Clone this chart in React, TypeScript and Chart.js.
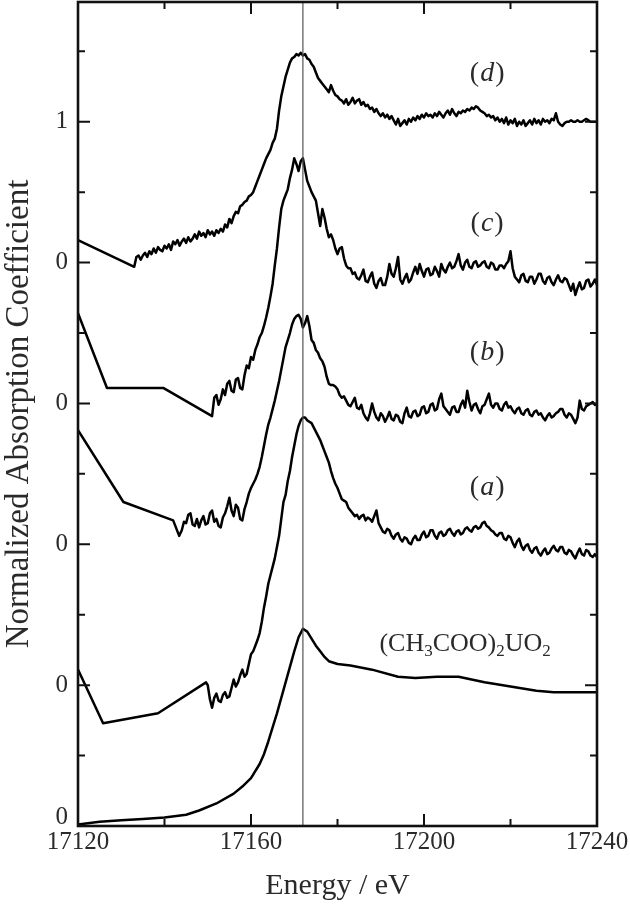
import React, { useEffect, useRef } from 'react';
import { Chart, registerables } from 'chart.js';

Chart.register(...registerables);

// ---------- data ----------
// shared energy grid (eV) for the measured (noisy) parts of spectra a-d
const energyGrid = [
  17133, 17133.5, 17134, 17134.5, 17135, 17135.5, 17136, 17136.5, 17137, 17137.5,
  17138, 17138.5, 17139, 17139.5, 17140, 17140.5, 17141, 17141.5, 17142, 17142.5,
  17143, 17143.5, 17144, 17144.5, 17145, 17145.5, 17146, 17146.5, 17147, 17147.5,
  17148, 17148.5, 17149, 17149.5, 17150, 17150.5, 17151, 17151.5, 17152, 17152.5,
  17153, 17153.5, 17154, 17154.5, 17155, 17155.5, 17156, 17156.5, 17157, 17157.5,
  17158, 17158.5, 17159, 17159.5, 17160, 17160.5, 17161, 17161.5, 17162, 17162.5,
  17163, 17163.5, 17164, 17164.5, 17165, 17165.5, 17166, 17166.5, 17167, 17167.5,
  17168, 17168.5, 17169, 17169.5, 17170, 17170.5, 17171, 17171.5, 17172, 17172.5,
  17173, 17173.5, 17174, 17174.5, 17175, 17175.5, 17176, 17176.5, 17177, 17177.5,
  17178, 17178.5, 17179, 17179.5, 17180, 17180.5, 17181, 17181.5, 17182, 17182.5,
  17183, 17183.5, 17184, 17184.5, 17185, 17185.5, 17186, 17186.5, 17187, 17187.5,
  17188, 17188.5, 17189, 17189.5, 17190, 17190.5, 17191, 17191.5, 17192, 17192.5,
  17193, 17193.5, 17194, 17194.5, 17195, 17195.5, 17196, 17196.5, 17197, 17197.5,
  17198, 17198.5, 17199, 17199.5, 17200, 17200.5, 17201, 17201.5, 17202, 17202.5,
  17203, 17203.5, 17204, 17204.5, 17205, 17205.5, 17206, 17206.5, 17207, 17207.5,
  17208, 17208.5, 17209, 17209.5, 17210, 17210.5, 17211, 17211.5, 17212, 17212.5,
  17213, 17213.5, 17214, 17214.5, 17215, 17215.5, 17216, 17216.5, 17217, 17217.5,
  17218, 17218.5, 17219, 17219.5, 17220, 17220.5, 17221, 17221.5, 17222, 17222.5,
  17223, 17223.5, 17224, 17224.5, 17225, 17225.5, 17226, 17226.5, 17227, 17227.5,
  17228, 17228.5, 17229, 17229.5, 17230, 17230.5, 17231, 17231.5, 17232, 17232.5,
  17233, 17233.5, 17234, 17234.5, 17235, 17235.5, 17236, 17236.5, 17237, 17237.5,
  17238, 17238.5, 17239, 17239.5, 17240,
];

// vertical offsets of each spectrum (their "0" levels)
const offsetRef = 0;
const offsetA = 1;
const offsetB = 2;
const offsetC = 3;
const offsetD = 4;

// (d) — grid values from 17133 eV
const dPreE = [17120];
const dPreV = [0.16];
const dGridV = [
  -0.03, 0.04, 0.05, 0.02, 0.05, 0.07, 0.04, 0.08, 0.06, 0.10,
  0.07, 0.11, 0.09, 0.08, 0.12, 0.10, 0.13, 0.09, 0.15, 0.13,
  0.16, 0.12, 0.15, 0.17, 0.14, 0.18, 0.15, 0.17, 0.20, 0.17,
  0.22, 0.19, 0.21, 0.18, 0.23, 0.20, 0.22, 0.19, 0.23, 0.21,
  0.24, 0.22, 0.27, 0.25, 0.31, 0.28, 0.33, 0.36, 0.35, 0.40,
  0.41, 0.43, 0.44, 0.47, 0.48, 0.50, 0.54, 0.58, 0.62, 0.66,
  0.70, 0.74, 0.77, 0.80, 0.85, 0.88, 0.95, 1.08, 1.18, 1.25,
  1.32, 1.37, 1.42, 1.45, 1.46, 1.48, 1.47, 1.49, 1.47, 1.48,
  1.45, 1.44, 1.41, 1.39, 1.35, 1.31, 1.29, 1.27, 1.25, 1.23,
  1.21, 1.26, 1.22, 1.19, 1.18, 1.16, 1.15, 1.13, 1.16, 1.12,
  1.14, 1.17, 1.13, 1.15, 1.16, 1.12, 1.14, 1.11, 1.12, 1.09,
  1.10, 1.07, 1.09, 1.06, 1.04, 1.06, 1.03, 1.05, 1.02, 1.04,
  1.01, 0.98, 1.02, 0.97, 0.99, 1.01, 0.98, 1.02, 1.00, 1.03,
  1.01, 1.04, 1.02, 1.05, 1.03, 1.06, 1.04, 1.05, 1.03, 1.06,
  1.04, 1.07, 1.05, 1.03, 1.06, 1.08, 1.05, 1.09, 1.06, 1.04,
  1.07, 1.06, 1.08, 1.07, 1.09, 1.08, 1.10, 1.09, 1.11, 1.10,
  1.08, 1.07, 1.06, 1.04, 1.05, 1.03, 1.04, 1.01, 1.03, 1.00,
  1.02, 0.99, 1.03, 0.98, 1.01, 0.99, 1.02, 0.97, 1.00, 0.98,
  1.01, 0.97, 0.99, 1.01, 0.98, 1.02, 0.99, 1.01, 0.98, 1.02,
  1.00, 1.01, 0.99, 1.02, 1.01, 1.06, 1.00, 0.98, 0.97, 0.99,
  1.00, 1.00, 1.01, 1.00, 1.00, 1.01, 1.00, 1.00, 1.01, 1.02,
  1.01, 1.00, 1.00, 1.00, 1.00,
];

// (c) — grid values from 17151 eV
const cPreE = [17120, 17126.7, 17135.5, 17139.7];
const cPreV = [0.64, 0.11, 0.11, 0.11];
const cGridV = [
  -0.09, 0.04, 0.06, -0.01,
  0.03, 0.10, 0.06, 0.14, 0.16, 0.09, 0.08, 0.17, 0.18, 0.11,
  0.10, 0.20, 0.27, 0.25, 0.33, 0.31, 0.38, 0.42, 0.47, 0.50,
  0.55, 0.61, 0.68, 0.76, 0.85, 0.98, 1.10, 1.25, 1.38, 1.44,
  1.48, 1.52, 1.60, 1.66, 1.74, 1.70, 1.65, 1.72, 1.74, 1.66,
  1.58, 1.54, 1.50, 1.47, 1.44, 1.35, 1.26, 1.38, 1.32, 1.24,
  1.18, 1.20, 1.16, 1.10, 1.06, 1.10, 1.11, 1.03, 0.98, 0.96,
  0.96, 0.92, 0.93, 0.89, 0.88, 0.91, 0.95, 0.87, 0.86, 0.90,
  0.93, 0.85, 0.82, 0.87, 0.89, 0.84, 0.84, 0.90, 0.99, 0.92,
  0.90, 0.96, 1.04, 0.88, 0.85, 0.89, 0.92, 0.86, 0.88, 0.93,
  0.97, 0.92, 0.99, 0.94, 0.90, 0.95, 0.96, 0.91, 0.92, 0.97,
  0.94, 0.90, 0.99, 0.95, 0.93, 0.97, 1.00, 0.96, 0.97, 1.01,
  1.06, 0.98, 0.95, 1.00, 1.02, 0.97, 0.96, 1.00, 1.01, 0.97,
  0.98, 1.00, 1.01, 0.97, 0.96, 1.00, 0.99, 0.95, 0.95, 0.98,
  0.98, 0.96, 0.99, 1.01, 1.08, 0.96, 0.90, 0.88, 0.86, 0.91,
  0.92, 0.87, 0.86, 0.90, 0.90, 0.85, 0.88, 0.92, 0.92, 0.87,
  0.85, 0.89, 0.90, 0.86, 0.84, 0.88, 0.91, 0.87, 0.86, 0.89,
  0.88, 0.84, 0.80, 0.85, 0.77, 0.82, 0.86, 0.81, 0.82, 0.87,
  0.88, 0.83, 0.85, 0.88, 0.84,
];

// (b) — grid values from 17144 eV
const bPreE = [17120, 17130.5, 17142, 17143.4];
const bPreV = [0.81, 0.30, 0.17, 0.06];
const bGridV = [
  0.10, 0.16, 0.15, 0.21, 0.22, 0.14, 0.13, 0.18,
  0.12, 0.17, 0.20, 0.14, 0.15, 0.22, 0.24, 0.16, 0.18, 0.13,
  0.12, 0.19, 0.22, 0.27, 0.33, 0.24, 0.20, 0.28, 0.26, 0.18,
  0.17, 0.25, 0.30, 0.36, 0.40, 0.43, 0.46, 0.50, 0.55, 0.62,
  0.70, 0.78, 0.85, 0.90, 0.96, 1.02, 1.09, 1.16, 1.24, 1.32,
  1.40, 1.45, 1.50, 1.56, 1.60, 1.62, 1.63, 1.60, 1.54, 1.57,
  1.62, 1.55, 1.45, 1.43, 1.38, 1.36, 1.32, 1.30, 1.26, 1.19,
  1.14, 1.13, 1.13, 1.12, 1.10, 1.06, 1.04, 1.05, 1.02, 0.99,
  0.98, 1.01, 1.04, 0.97, 0.96, 0.99, 0.93, 0.90, 0.88, 0.93,
  1.00, 0.94, 0.90, 0.88, 0.93, 0.91, 0.87, 0.90, 0.94, 0.89,
  0.88, 0.92, 0.91, 0.87, 0.86, 0.93, 0.97, 0.91, 0.90, 0.94,
  0.95, 0.91, 0.92, 0.97, 0.98, 0.93, 0.94, 0.99, 1.00, 0.95,
  0.96, 1.03, 1.07, 0.98, 0.96, 0.94, 0.92, 0.97, 0.98, 0.94,
  0.94, 0.99, 1.02, 0.97, 1.09, 1.01, 0.95, 0.99, 1.00, 0.96,
  0.93, 0.98, 0.99, 1.03, 1.07, 0.99, 0.97, 1.00, 1.00, 0.96,
  0.95, 0.99, 1.01, 0.97, 0.98, 0.95, 0.93, 0.96, 0.97, 0.93,
  0.92, 0.95, 0.96, 0.92, 0.91, 0.94, 0.95, 0.92, 0.93, 0.90,
  0.88, 0.91, 0.93, 0.90, 0.91, 0.93, 0.94, 0.96, 0.96, 0.92,
  0.90, 0.93, 0.92, 0.89, 0.86, 0.90, 1.02, 0.96, 0.95, 0.98,
  0.99, 1.00, 1.01, 0.99, 1.00,
];

// (a) — grid values from 17150 eV
const aPreE = [17120, 17125.8, 17138.5, 17149.6];
const aPreV = [0.11, -0.27, -0.20, 0.02];
const aGridV = [
  0.00, -0.10, -0.16, -0.09, -0.06, -0.11,
  -0.12, -0.07, -0.05, -0.09, -0.08, -0.02, 0.04, -0.01, 0.02, 0.07,
  0.11, 0.06, 0.08, 0.15, 0.22, 0.24, 0.28, 0.32, 0.37, 0.45,
  0.55, 0.63, 0.72, 0.78, 0.84, 0.90, 0.98, 1.06, 1.18, 1.30,
  1.35, 1.45, 1.52, 1.62, 1.70, 1.78, 1.84, 1.88, 1.90, 1.90,
  1.88, 1.87, 1.86, 1.83, 1.80, 1.77, 1.74, 1.70, 1.66, 1.62,
  1.58, 1.52, 1.47, 1.43, 1.40, 1.36, 1.32, 1.31, 1.30, 1.26,
  1.24, 1.22, 1.20, 1.21, 1.18, 1.20, 1.21, 1.17, 1.19, 1.18,
  1.16, 1.20, 1.24, 1.15, 1.12, 1.09, 1.08, 1.11, 1.10, 1.06,
  1.04, 1.07, 1.08, 1.04, 1.02, 1.05, 1.04, 1.01, 1.00, 1.04,
  1.06, 1.03, 1.03, 1.07, 1.09, 1.05, 1.06, 1.10, 1.10, 1.06,
  1.04, 1.08, 1.09, 1.06, 1.07, 1.10, 1.11, 1.08, 1.06, 1.09,
  1.10, 1.07, 1.08, 1.11, 1.12, 1.10, 1.09, 1.12, 1.13, 1.11,
  1.12, 1.15, 1.16, 1.13, 1.12, 1.10, 1.09, 1.07, 1.06, 1.08,
  1.08, 1.04, 1.03, 1.06, 1.05, 1.01, 0.98, 1.02, 1.04, 0.99,
  0.96, 0.99, 1.00, 0.96, 0.94, 0.97, 0.98, 0.94, 0.92, 0.95,
  0.97, 0.93, 0.94, 0.97, 0.99, 0.96, 0.95, 0.98, 0.98, 0.94,
  0.93, 0.96, 0.95, 0.92, 0.90, 0.94, 0.97, 0.93, 0.92, 0.96,
  0.95, 0.92, 0.91, 0.93, 0.91,
];

// reference (CH3COO)2UO2
const refE = [
  17120, 17125, 17130, 17135, 17140, 17145, 17148, 17152, 17156, 17158,
  17160, 17162, 17163, 17164, 17165, 17166, 17167, 17168, 17169, 17170,
  17171, 17172, 17173, 17174, 17175, 17176, 17177, 17178, 17180, 17183,
  17188, 17194, 17198, 17203, 17208, 17214, 17220, 17226, 17230, 17240,
];
const refV = [
  0.01, 0.03, 0.04, 0.05, 0.06, 0.08, 0.11, 0.16, 0.23, 0.28,
  0.34, 0.44, 0.51, 0.60, 0.70, 0.80, 0.91, 1.02, 1.13, 1.24,
  1.34, 1.40, 1.38, 1.33, 1.28, 1.24, 1.20, 1.17, 1.15, 1.14,
  1.11, 1.06, 1.05, 1.06, 1.06, 1.02, 0.99, 0.96, 0.95, 0.95,
];

const edgeEnergy = 17172;

// axis ticks
const xMajorTicks = [17120, 17160, 17200, 17240];
const xMinorTicks = [17140, 17180, 17220];
const yMajorTicks = [0, 1, 2, 3, 4, 5];
const yMinorTicks = [0.5, 1.5, 2.5, 3.5, 4.5, 5.5];
// the bottom "0" is drawn a little raised (see plugin), so it is blank here
const yTickLabels = ['', '0', '0', '0', '0', '1'];
const yBottomLabel = '0';

const curveLetters = ['d', 'c', 'b', 'a'];

// ---------- helpers ----------
const SERIF = '"Liberation Serif", "Times New Roman", Times, serif';
const TEXT = '#2a2a2a';

function buildPoints(preE: number[], preV: number[], gridV: number[], offset: number) {
  const pts: { x: number; y: number }[] = preE.map((e, i) => ({ x: e, y: preV[i] + offset }));
  const gridE = energyGrid.slice(energyGrid.length - gridV.length);
  gridV.forEach((v, i) => pts.push({ x: gridE[i], y: v + offset }));
  return pts;
}

const labelPos = {
  letters: [
    { e: 17214.6, v: 5.34 },
    { e: 17214.6, v: 4.28 },
    { e: 17214.6, v: 3.36 },
    { e: 17214.6, v: 2.40 },
  ],
  ref: { e: 17209.5, v: 1.24 },
};

const framePlugin = {
  id: 'frame',
  afterDraw(chart: any) {
    const { ctx, chartArea: ca, scales } = chart;
    const xs = scales.x;
    const ys = scales.y;
    ctx.save();
    ctx.strokeStyle = '#111';
    ctx.lineWidth = 2;
    ctx.beginPath();
    const tick = (vals: number[], len: number) => {
      vals.forEach((v) => {
        const px = xs.getPixelForValue(v);
        ctx.moveTo(px, ca.bottom);
        ctx.lineTo(px, ca.bottom - len);
        ctx.moveTo(px, ca.top);
        ctx.lineTo(px, ca.top + len);
      });
    };
    const ytick = (vals: number[], len: number) => {
      vals.forEach((v) => {
        const py = ys.getPixelForValue(v);
        ctx.moveTo(ca.left, py);
        ctx.lineTo(ca.left + len, py);
        ctx.moveTo(ca.right, py);
        ctx.lineTo(ca.right - len, py);
      });
    };
    tick(xMajorTicks, 12);
    tick(xMinorTicks, 7);
    ytick(yMajorTicks, 12);
    ytick(yMinorTicks, 7);
    ctx.stroke();
    ctx.lineWidth = 2.6;
    ctx.strokeRect(ca.left, ca.top, ca.right - ca.left, ca.bottom - ca.top);

    ctx.fillStyle = TEXT;

    // raised bottom "0" of the y axis
    ctx.font = `25px ${SERIF}`;
    ctx.textAlign = 'right';
    ctx.textBaseline = 'middle';
    ctx.fillText(yBottomLabel, ca.left - 10, ys.getPixelForValue(0) - 9);

    // spectrum labels (a)-(d)
    ctx.textAlign = 'left';
    labelPos.letters.forEach((p, i) => {
      const cx = xs.getPixelForValue(p.e);
      const cy = ys.getPixelForValue(p.v);
      const up = `28px ${SERIF}`;
      const it = `italic 28px ${SERIF}`;
      ctx.font = up;
      const wp = ctx.measureText('(').width;
      const wq = ctx.measureText(')').width;
      ctx.font = it;
      const wl = ctx.measureText(curveLetters[i]).width;
      let x = cx - (wp + wl + wq + 2) / 2;
      ctx.font = up;
      ctx.fillText('(', x, cy);
      x += wp;
      ctx.font = it;
      ctx.fillText(curveLetters[i], x + 1, cy);
      x += wl + 2;
      ctx.font = up;
      ctx.fillText(')', x, cy);
    });

    // reference label with subscripts
    const parts: [string, boolean][] = [
      ['(CH', false], ['3', true], ['COO)', false], ['2', true], ['UO', false], ['2', true],
    ];
    const mainF = `26px ${SERIF}`;
    const subF = `17px ${SERIF}`;
    let total = 0;
    parts.forEach(([t, s]) => {
      ctx.font = s ? subF : mainF;
      total += ctx.measureText(t).width;
    });
    const rx = xs.getPixelForValue(labelPos.ref.e);
    const ry = ys.getPixelForValue(labelPos.ref.v);
    ctx.textBaseline = 'alphabetic';
    let x = rx - total / 2;
    parts.forEach(([t, s]) => {
      ctx.font = s ? subF : mainF;
      ctx.fillText(t, x, s ? ry + 5 : ry);
      x += ctx.measureText(t).width;
    });
    ctx.restore();
  },
};

export default function App() {
  const ref = useRef<HTMLCanvasElement | null>(null);

  useEffect(() => {
    if (!ref.current) return;
    const line = (data: any[], extra: any = {}) => ({
      data,
      showLine: true,
      borderColor: '#000',
      borderWidth: 2.5,
      borderJoinStyle: 'round',
      pointRadius: 0,
      fill: false,
      tension: 0,
      ...extra,
    });
    const chart = new Chart(ref.current, {
      type: 'scatter',
      data: {
        datasets: [
          line(
            [
              { x: edgeEnergy, y: 0 },
              { x: edgeEnergy, y: 5.85 },
            ],
            { borderColor: '#555', borderWidth: 1.2 }
          ),
          line(refE.map((e, i) => ({ x: e, y: refV[i] + offsetRef }))),
          line(buildPoints(aPreE, aPreV, aGridV, offsetA)),
          line(buildPoints(bPreE, bPreV, bGridV, offsetB)),
          line(buildPoints(cPreE, cPreV, cGridV, offsetC)),
          line(buildPoints(dPreE, dPreV, dGridV, offsetD)),
        ],
      },
      options: {
        animation: false,
        responsive: false,
        maintainAspectRatio: false,
        layout: { padding: { left: 0, right: 33, top: 2, bottom: 0 } },
        plugins: { legend: { display: false }, tooltip: { enabled: false } },
        scales: {
          x: {
            type: 'linear',
            min: 17120,
            max: 17240,
            afterBuildTicks: (s: any) => {
              s.ticks = xMajorTicks.map((v) => ({ value: v }));
            },
            afterFit: (s: any) => {
              s.height = 78;
              s.paddingLeft = 0;
              s.paddingRight = 0;
              s.paddingTop = 0;
              s.paddingBottom = 0;
            },
            grid: { display: false, drawTicks: false },
            border: { display: false },
            ticks: {
              autoSkip: false,
              maxRotation: 0,
              padding: 1,
              color: TEXT,
              font: { family: SERIF, size: 25 },
              callback: (v: any) => String(v),
            },
            title: {
              display: true,
              text: 'Energy / eV',
              color: TEXT,
              font: { family: SERIF, size: 30 },
              padding: 0,
            },
          },
          y: {
            type: 'linear',
            min: 0,
            max: 5.85,
            afterBuildTicks: (s: any) => {
              s.ticks = yMajorTicks.map((v) => ({ value: v }));
            },
            afterFit: (s: any) => {
              s.width = 78;
              s.paddingLeft = 0;
              s.paddingRight = 0;
              s.paddingTop = 0;
              s.paddingBottom = 0;
            },
            grid: { display: false, drawTicks: false },
            border: { display: false },
            ticks: {
              autoSkip: false,
              padding: 10,
              color: TEXT,
              font: { family: SERIF, size: 25 },
              callback: (_v: any, i: number) => yTickLabels[i],
            },
            title: {
              display: true,
              text: 'Normalized Absorption Coefficient',
              color: TEXT,
              font: { family: SERIF, size: 33 },
              padding: 0,
            },
          },
        },
      },
      plugins: [framePlugin],
    } as any);
    return () => chart.destroy();
  }, []);

  return (
    <div style={{ position: 'absolute', left: 0, top: 0, width: 630, height: 904, background: '#fff' }}>
      <canvas ref={ref} width={630} height={904} style={{ display: 'block' }} />
    </div>
  );
}
